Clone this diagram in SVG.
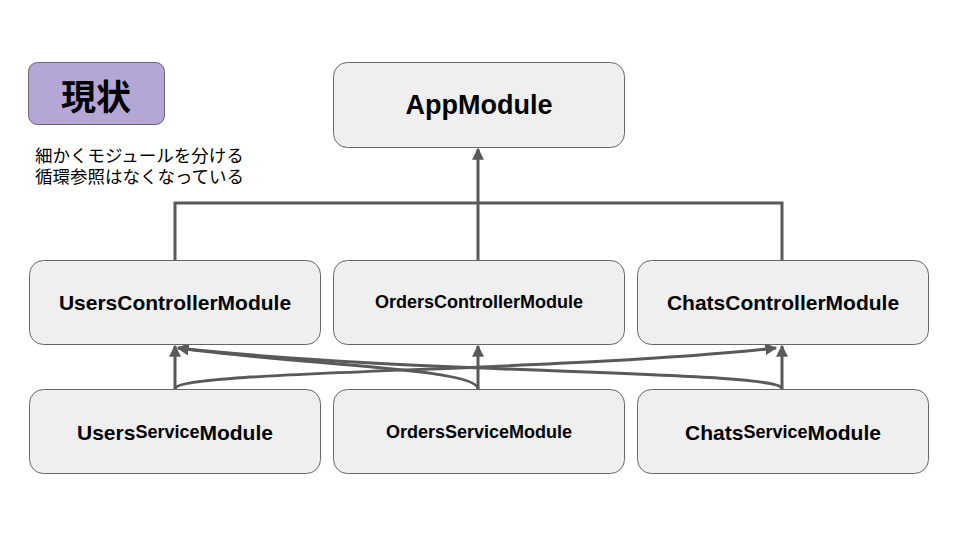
<svg xmlns="http://www.w3.org/2000/svg" width="960" height="540" viewBox="0 0 960 540">
<style>
.node{fill:#efefef;stroke:#666666;stroke-width:1}
.lbl{font-family:"Liberation Sans","Noto Sans CJK JP",sans-serif;font-weight:bold;fill:#000;text-anchor:middle;dominant-baseline:central}
.conn{fill:none;stroke:#595959;stroke-width:3}
.note{font-family:"Noto Sans CJK JP",sans-serif;font-size:17.5px;fill:#000}
</style>
<defs>
<marker id="ah" viewBox="0 0 10 10" refX="9" refY="5" markerWidth="4" markerHeight="4" orient="auto" markerUnits="strokeWidth">
<path d="M0,0 L10,5 L0,10 z" fill="#595959"/>
</marker>
</defs>
<rect width="960" height="540" fill="#ffffff"/>
<g id="title">
<rect x="28.5" y="62.5" width="136" height="62" rx="9" fill="#b4a7d6" stroke="#666666" stroke-width="1"/>
<text x="96" y="94" class="lbl" style="font-family:'Noto Sans CJK JP',sans-serif;font-size:35px">現状</text>
</g>
<g id="note">
<text x="35" y="162" class="note">細かくモジュールを分ける</text>
<text x="35" y="183" class="note">循環参照はなくなっている</text>
</g>
<g id="connectors">
<path class="conn" d="M175,260 V203 H782 V260"/>
<path class="conn" d="M478,260 V149" marker-end="url(#ah)"/>
<path class="conn" d="M175,389 V346" marker-end="url(#ah)"/>
<path class="conn" d="M478,389 V346" marker-end="url(#ah)"/>
<path class="conn" d="M782,389 V346" marker-end="url(#ah)"/>
<path class="conn" d="M175,389 C175,370 560,372 776,348" marker-end="url(#ah)"/>
<path class="conn" d="M478,389 C478,368 300,365 178,348" marker-end="url(#ah)"/>
<path class="conn" d="M782,389 C782,370 420,375 178,348" marker-end="url(#ah)"/>
</g>
<g id="AppModule">
<rect class="node" x="333.5" y="62.5" width="291" height="85" rx="14"/>
<text class="lbl" x="479" y="105" font-size="27">AppModule</text>
</g>
<g id="UsersControllerModule">
<rect class="node" x="29.5" y="260.5" width="291" height="84" rx="14"/>
<text class="lbl" x="175" y="302" font-size="21">UsersControllerModule</text>
</g>
<g id="OrdersControllerModule">
<rect class="node" x="333.5" y="260.5" width="291" height="84" rx="14"/>
<text class="lbl" x="479" y="302" font-size="18">OrdersControllerModule</text>
</g>
<g id="ChatsControllerModule">
<rect class="node" x="637.5" y="260.5" width="291" height="84" rx="14"/>
<text class="lbl" x="783" y="302" font-size="21">ChatsControllerModule</text>
</g>
<g id="UsersServiceModule">
<rect class="node" x="29.5" y="389.5" width="291" height="84" rx="14"/>
<text class="lbl" x="175" y="432" font-size="21">Users<tspan font-size="18">Service</tspan>Module</text>
</g>
<g id="OrdersServiceModule">
<rect class="node" x="333.5" y="389.5" width="291" height="84" rx="14"/>
<text class="lbl" x="479" y="432" font-size="18">OrdersServiceModule</text>
</g>
<g id="ChatsServiceModule">
<rect class="node" x="637.5" y="389.5" width="291" height="84" rx="14"/>
<text class="lbl" x="783" y="432" font-size="21">Chats<tspan font-size="18">Service</tspan>Module</text>
</g>
</svg>
